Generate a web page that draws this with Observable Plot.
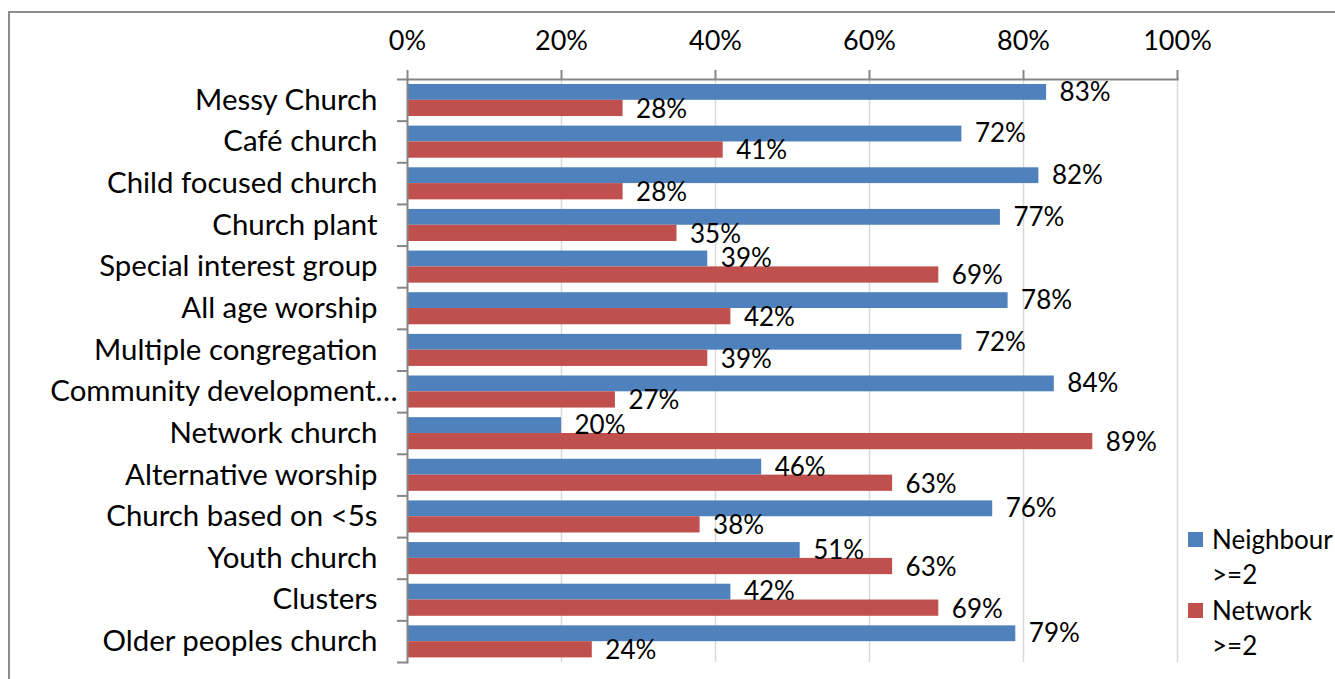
<!DOCTYPE html>
<html>
<head>
<meta charset="utf-8">
<script src="https://cdn.jsdelivr.net/npm/d3@7"></script>
<script src="https://cdn.jsdelivr.net/npm/@observablehq/plot@0.6"></script>
<style>
  html, body { margin: 0; padding: 0; background: #fff; overflow: hidden; }
  #wrap { position: relative; width: 1335px; height: 679px; }
  #border { position: absolute; left: 8px; top: 11px; width: 1400px; height: 700px;
            border-top: 2px solid #8c8c8c; border-left: 2px solid #8c8c8c; }
  #chart { position: absolute; left: 0; top: 0; }
  #legend { position: absolute; left: 1188px; top: 522px; font-family: Lato, sans-serif;
            font-size: 26px; line-height: 35px; color: #000; }
  .item { position: relative; padding-left: 24px; margin-bottom: 1px; }
  .sw { position: absolute; left: 0; top: 10px; width: 15px; height: 15px; }
</style>
</head>
<body>
<div id="wrap">
  <div id="border"></div>
  <div id="chart"></div>
  <div id="legend"></div>
</div>
<script>
const categories = [
  "Messy Church", "Café church", "Child focused church", "Church plant",
  "Special interest group", "All age worship", "Multiple congregation",
  "Community development…", "Network church", "Alternative worship",
  "Church based on <5s", "Youth church", "Clusters", "Older peoples church"
];
const truncatedCategories = ["Community development…"];
const neighbour = [83, 72, 82, 77, 39, 78, 72, 84, 20, 46, 76, 51, 42, 79];
const network   = [28, 41, 28, 35, 69, 42, 39, 27, 89, 63, 38, 63, 69, 24];
const seriesNames = ["Neighbour >=2", "Network >=2"];
const seriesColors = ["#4f81bd", "#c0504d"];
const xTicks = [0, 20, 40, 60, 80, 100];
const xTickLabels = ["0%", "20%", "40%", "60%", "80%", "100%"];

const W = 1335, H = 679;
const mTop = 79, mBottom = 17, mLeft = 407, mRight = 158;
const step = (H - mTop - mBottom) / categories.length;

const neighRows = categories.map((c, i) => ({cat: c, value: neighbour[i]}));
const netRows = categories.map((c, i) => ({cat: c, value: network[i]}));

const font = "Lato, sans-serif";
const axisColor = "#868686";

const chart = Plot.plot({
  width: W, height: H,
  marginTop: mTop, marginBottom: mBottom, marginLeft: mLeft, marginRight: mRight,
  style: {fontFamily: font, background: "transparent", color: "#000"},
  x: {domain: [0, 100], axis: null},
  y: {domain: categories, padding: 0, round: false, axis: null},
  marks: [
    Plot.gridX(xTicks.slice(1), {stroke: "#d9d9d9", strokeOpacity: 1, strokeWidth: 1.5}),
    Plot.barX(neighRows, {x: "value", y: "cat", fill: seriesColors[0],
      insetTop: step * 0.12, insetBottom: step * 0.5}),
    Plot.barX(netRows, {x: "value", y: "cat", fill: seriesColors[1],
      insetTop: step * 0.5, insetBottom: step * 0.11}),
    Plot.frame({anchor: "top", stroke: axisColor, strokeWidth: 2}),
    Plot.frame({anchor: "left", stroke: axisColor, strokeWidth: 2}),
    Plot.axisX({anchor: "top", ticks: xTicks, tickFormat: (d) => xTickLabels[xTicks.indexOf(d)],
      tickSize: 10, tickPadding: 20, stroke: axisColor, strokeWidth: 2,
      fontSize: 27, label: null}),
    Plot.axisY({ticks: categories, tickSize: 10, tickFormat: () => "", dy: -step / 2,
      stroke: axisColor, strokeWidth: 2, label: null}),
    Plot.axisY({ticks: categories.slice(-1), tickSize: 10, tickFormat: () => "", dy: step / 2,
      stroke: axisColor, strokeWidth: 2, label: null}),
    Plot.axisY({ticks: categories.filter(c => !truncatedCategories.includes(c)),
      tickSize: 0, tickPadding: 30, fontSize: 29.4, label: null, textOverflow: null}),
    Plot.axisY({ticks: truncatedCategories,
      tickSize: 0, tickPadding: 10, fontSize: 29.4, label: null, textOverflow: null}),
    Plot.text(neighRows, {x: "value", y: "cat", text: d => d.value + "%", textAnchor: "start",
      dx: 13, dy: -step * 0.19, fontSize: 26, fill: "#000"}),
    Plot.text(netRows, {x: "value", y: "cat", text: d => d.value + "%", textAnchor: "start",
      dx: 13, dy: step * 0.22, fontSize: 26, fill: "#000"})
  ]
});
document.getElementById("chart").appendChild(chart);

const legend = document.getElementById("legend");
seriesNames.forEach((name, i) => {
  const item = document.createElement("div");
  item.className = "item";
  const sw = document.createElement("span");
  sw.className = "sw";
  sw.style.background = seriesColors[i];
  item.appendChild(sw);
  const parts = name.split(" ");
  item.appendChild(document.createTextNode(parts[0]));
  item.appendChild(document.createElement("br"));
  item.appendChild(document.createTextNode(parts[1]));
  legend.appendChild(item);
});
</script>
</body>
</html>
